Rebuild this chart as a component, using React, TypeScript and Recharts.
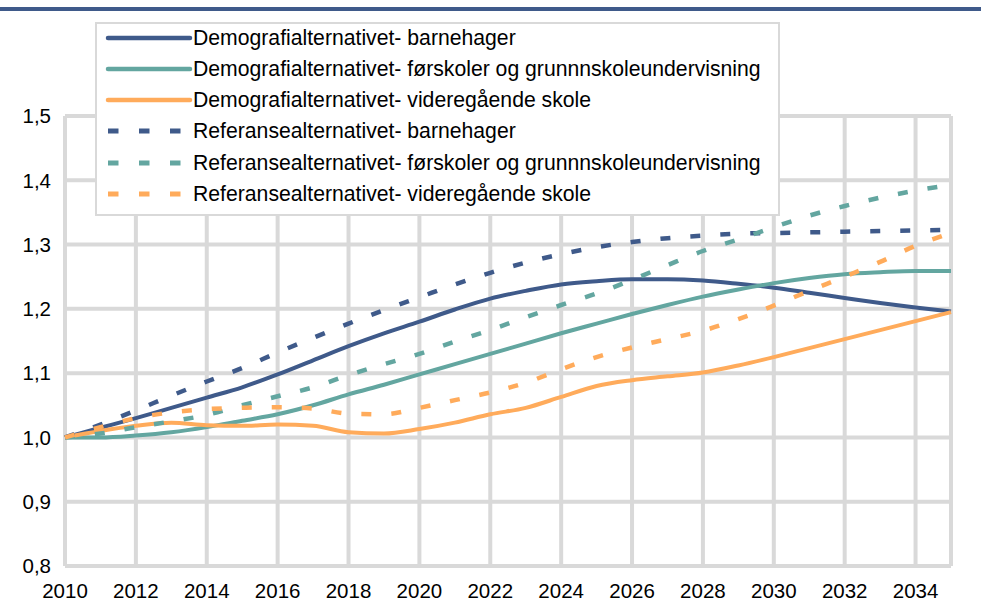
import React from 'react';
import { LineChart, Line, XAxis, YAxis, CartesianGrid, Legend, ReferenceLine } from 'recharts';

const years = [2010, 2011, 2012, 2013, 2014, 2015, 2016, 2017, 2018, 2019, 2020, 2021, 2022, 2023, 2024, 2025, 2026, 2027, 2028, 2029, 2030, 2031, 2032, 2033, 2034, 2035];

const demoBarnehager = [1.0, 1.015, 1.03, 1.046, 1.062, 1.078, 1.098, 1.12, 1.142, 1.162, 1.18, 1.199, 1.216, 1.228, 1.238, 1.243, 1.246, 1.246, 1.244, 1.239, 1.233, 1.225, 1.217, 1.209, 1.202, 1.196];
const demoGrunnskole = [1.0, 1.0, 1.003, 1.008, 1.016, 1.026, 1.036, 1.05, 1.067, 1.082, 1.098, 1.114, 1.13, 1.146, 1.162, 1.177, 1.192, 1.206, 1.219, 1.23, 1.24, 1.248, 1.254, 1.257, 1.259, 1.259];
const demoVgs = [1.0, 1.01, 1.018, 1.023, 1.019, 1.018, 1.02, 1.018, 1.008, 1.006, 1.013, 1.023, 1.036, 1.046, 1.063, 1.08, 1.089, 1.095, 1.101, 1.112, 1.125, 1.139, 1.153, 1.167, 1.181, 1.195];
const refBarnehager = [1.0, 1.02, 1.042, 1.065, 1.087, 1.108, 1.132, 1.155, 1.177, 1.198, 1.218, 1.238, 1.256, 1.272, 1.285, 1.296, 1.304, 1.31, 1.314, 1.317, 1.318, 1.319, 1.32, 1.321, 1.322, 1.323];
const refGrunnskole = [1.0, 1.006, 1.016, 1.025, 1.035, 1.05, 1.064, 1.078, 1.097, 1.114, 1.13, 1.149, 1.167, 1.187, 1.206, 1.224, 1.245, 1.268, 1.29, 1.308, 1.327, 1.345, 1.36, 1.373, 1.384, 1.393];
const refVgs = [1.0, 1.016, 1.03, 1.039, 1.044, 1.046, 1.047, 1.045, 1.037, 1.036, 1.046, 1.058, 1.07, 1.085, 1.106, 1.125, 1.14, 1.153, 1.166, 1.184, 1.205, 1.228, 1.25, 1.273, 1.298, 1.318];

const xTicks = [2010, 2012, 2014, 2016, 2018, 2020, 2022, 2024, 2026, 2028, 2030, 2032, 2034];
const yTicks = [0.8, 0.9, 1.0, 1.1, 1.2, 1.3, 1.4, 1.5];

const DARK = '#3f5a8a';
const TEAL = '#63a6a0';
const ORANGE = '#ffab5b';
const GRID = '#d9d9d9';
const FONT = '"Liberation Sans", Arial, sans-serif';

const series = [
  { key: 'demoBarnehager', name: 'Demografialternativet- barnehager', values: demoBarnehager, color: DARK, dash: undefined as string | undefined },
  { key: 'demoGrunnskole', name: 'Demografialternativet- førskoler og grunnnskoleundervisning', values: demoGrunnskole, color: TEAL, dash: undefined as string | undefined },
  { key: 'demoVgs', name: 'Demografialternativet- videregående skole', values: demoVgs, color: ORANGE, dash: undefined as string | undefined },
  { key: 'refBarnehager', name: 'Referansealternativet- barnehager', values: refBarnehager, color: DARK, dash: '10 20' },
  { key: 'refGrunnskole', name: 'Referansealternativet- førskoler og grunnnskoleundervisning', values: refGrunnskole, color: TEAL, dash: '10 20' },
  { key: 'refVgs', name: 'Referansealternativet- videregående skole', values: refVgs, color: ORANGE, dash: '10 20' },
];

const data = years.map((year, i) => {
  const row: Record<string, number> = { year };
  series.forEach((s) => {
    row[s.key] = s.values[i];
  });
  return row;
});

const fmt = (v: number) => v.toFixed(1).replace('.', ',');

const LegendBox = (props: any) => {
  const payload = props.payload || [];
  return (
    <div
      style={{
        width: 681,
        height: 190,
        border: `2px solid ${GRID}`,
        background: '#ffffff',
        boxSizing: 'content-box',
        fontFamily: FONT,
        fontSize: 21.2,
        color: '#000',
        position: 'relative',
      }}
    >
      {payload.map((entry: any, i: number) => {
        const s = series.find((x) => x.key === entry.dataKey) || series[i];
        return (
          <div
            key={i}
            style={{
              position: 'absolute',
              left: 0,
              top: 13.7 + i * 31.26 - 15,
              display: 'flex',
              alignItems: 'center',
              height: 30,
            }}
          >
            <svg width={96} height={12} style={{ display: 'block' }}>
              <line
                x1={11}
                x2={s.dash ? 84 : 93}
                y1={6}
                y2={6}
                stroke={s.color}
                strokeWidth={s.dash ? 5 : 4.5}
                strokeDasharray={s.dash ? '10.5 20.5' : undefined}
                strokeLinecap={s.dash ? 'butt' : 'round'}
              />
            </svg>
            <span style={{ whiteSpace: 'nowrap' }}>{entry.value}</span>
          </div>
        );
      })}
    </div>
  );
};

export default function App() {
  return (
    <div style={{ position: 'absolute', left: 0, top: 0, width: 981, height: 614, background: '#fff' }}>
      <div style={{ position: 'absolute', left: 0, top: 7, width: 981, height: 4, background: DARK }} />
      <LineChart
        width={981}
        height={614}
        data={data}
        margin={{ top: 116, right: 30, bottom: 8, left: 10 }}
      >
        <CartesianGrid stroke={GRID} strokeWidth={4} />
        <XAxis
          dataKey="year"
          type="number"
          domain={[2010, 2035]}
          ticks={xTicks}
          axisLine={false}
          tickLine={false}
          interval={0}
          height={40}
          tick={{ fill: '#000', fontSize: 20.5, fontFamily: FONT }}
          tickMargin={11}
        />
        <YAxis
          type="number"
          domain={[0.8, 1.5]}
          ticks={yTicks}
          tickFormatter={fmt}
          axisLine={false}
          tickLine={false}
          width={55}
          interval={0}
          tick={{ fill: '#000', fontSize: 20.5, fontFamily: FONT }}
          tickMargin={8}
        />
        <ReferenceLine x={2035} stroke={GRID} strokeWidth={4} />
        <ReferenceLine y={0.8} stroke={GRID} strokeWidth={4} />
        <Legend
          layout="horizontal"
          verticalAlign="middle"
          align="center"
          content={<LegendBox />}
          wrapperStyle={{ left: 95, top: 22, width: 685, height: 194 }}
        />
        {series.map((s) => (
          <Line
            key={s.key}
            dataKey={s.key}
            name={s.name}
            type="monotone"
            stroke={s.color}
            strokeWidth={s.dash ? 4.5 : 4}
            strokeDasharray={s.dash}
            dot={false}
            activeDot={false}
            isAnimationActive={false}
            legendType="line"
          />
        ))}
      </LineChart>
    </div>
  );
}
